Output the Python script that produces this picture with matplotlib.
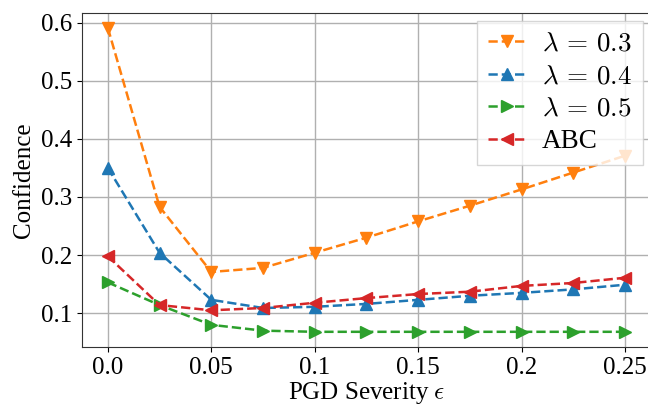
import numpy as np
import matplotlib
matplotlib.use("Agg")
import matplotlib.pyplot as plt

plt.rcParams['font.family'] = ['Liberation Serif', 'DejaVu Serif']
plt.rcParams['mathtext.fontset'] = 'cm'
plt.rcParams['font.size'] = 18

eps = [0.0, 0.025, 0.05, 0.075, 0.1, 0.125, 0.15, 0.175, 0.2, 0.225, 0.25]
lam03 = [0.591, 0.283, 0.171, 0.178, 0.204, 0.230, 0.258, 0.285, 0.313, 0.342, 0.371]
lam04 = [0.350, 0.204, 0.123, 0.109, 0.111, 0.116, 0.123, 0.130, 0.135, 0.141, 0.149]
lam05 = [0.153, 0.114, 0.080, 0.070, 0.068, 0.068, 0.068, 0.068, 0.068, 0.068, 0.068]
abc = [0.198, 0.114, 0.105, 0.109, 0.118, 0.126, 0.133, 0.137, 0.147, 0.152, 0.161]

xticks = [0.0, 0.05, 0.1, 0.15, 0.2, 0.25]
xticklabels = ['0.0', '0.05', '0.1', '0.15', '0.2', '0.25']
yticks = [0.1, 0.2, 0.3, 0.4, 0.5, 0.6]

fig = plt.figure(figsize=(6.48, 4.07), dpi=100)
ax = fig.add_axes([0.1265, 0.1474, 0.878, 0.8216])

ax.plot(eps, lam03, '--v', color='tab:orange', lw=1.8, ms=8.5, label=r'$\lambda\,=\,0.3$')
ax.plot(eps, lam04, '--^', color='tab:blue', lw=1.8, ms=8.5, label=r'$\lambda\,=\,0.4$')
ax.plot(eps, lam05, '-->', color='tab:green', lw=1.8, ms=8.5, label=r'$\lambda\,=\,0.5$')
ax.plot(eps, abc, '--<', color='tab:red', lw=1.8, ms=8.5, label='ABC')

ax.set_xticks(xticks)
ax.set_xticklabels(xticklabels)
ax.set_yticks(yticks)
ax.grid(True, color='#b0b0b0', lw=1)
ax.set_axisbelow(True)
for s in ax.spines.values():
    s.set_color('#333333')

ax.set_xlabel(r'PGD Severity $\epsilon$', labelpad=1)
ax.set_ylabel('Confidence')
ax.legend(loc='upper right', fontsize=19.5, handlelength=1.4, handletextpad=0.6,
          labelspacing=0.28, borderaxespad=0.3, fancybox=False, edgecolor='#cccccc')

fig.savefig('out.png', dpi=100)
